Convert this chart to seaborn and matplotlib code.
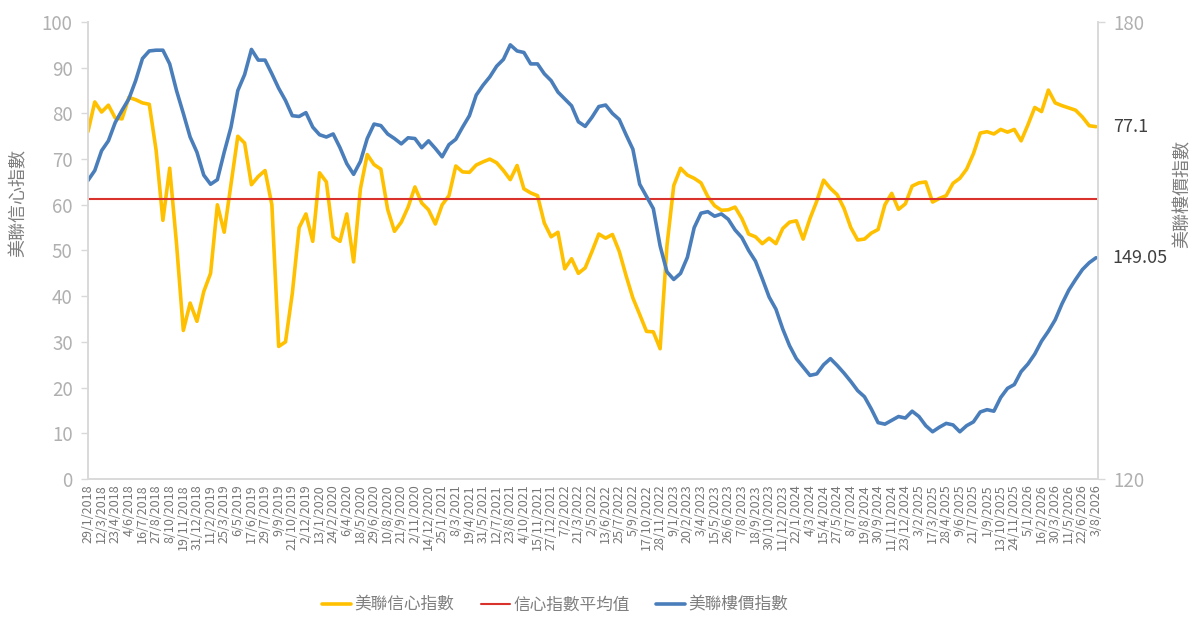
import pandas as pd
import seaborn as sns
import matplotlib.pyplot as plt

# weekly series sampled every 3 weeks, 29/1/2018 .. 3/8/2026
start_date = '2018-01-29'
step_days = 21

confidence = [
    76, 82.5, 80.3, 81.8, 79, 78.8, 83.5, 83, 82.3, 82,
    72, 56.6, 68, 51.5, 32.5, 38.5, 34.5, 41, 45, 60,
    54, 64.5, 75, 73.5, 64.4, 66.2, 67.5, 60, 29, 30,
    40.6, 55, 58, 52, 67, 65, 53, 52, 58, 47.5,
    63.5, 71, 68.8, 67.8, 59, 54.2, 56.2, 59.5, 63.9, 60.4,
    58.9, 55.8, 60, 62, 68.5, 67.2, 67.1, 68.7, 69.4, 70,
    69.2, 67.5, 65.5, 68.6, 63.5, 62.6, 62, 56, 53, 54,
    46, 48.2, 45, 46.2, 49.8, 53.6, 52.7, 53.5, 49.8, 44.5,
    39.6, 36, 32.3, 32.2, 28.5, 51, 64.2, 68, 66.5, 65.8,
    64.8, 61.8, 59.8, 58.8, 58.9, 59.5, 57, 53.6, 53, 51.5,
    52.7, 51.5, 54.8, 56.2, 56.5, 52.5, 57, 60.8, 65.4, 63.6,
    62.2, 59.2, 55, 52.3, 52.5, 53.8, 54.6, 60, 62.5, 59,
    60.2, 64.1, 64.8, 65, 60.6, 61.4, 62, 64.7, 65.8, 67.8,
    71.2, 75.7, 76, 75.5, 76.5, 75.9, 76.5, 74, 77.5, 81.3,
    80.4, 85.1, 82.3, 81.7, 81.2, 80.7, 79.2, 77.3, 77.1,
]

price = [
    159.2, 160.5, 163.1, 164.4, 166.8, 168.4, 169.9, 172.3, 175.2, 176.2,
    176.3, 176.3, 174.5, 171.0, 168.0, 164.9, 162.9, 159.9, 158.7, 159.3,
    162.9, 166.2, 171.0, 173.1, 176.4, 175.0, 175.0, 173.2, 171.3, 169.7,
    167.7, 167.6, 168.1, 166.2, 165.2, 164.9, 165.3, 163.5, 161.4, 160.0,
    161.7, 164.7, 166.6, 166.4, 165.3, 164.7, 164.0, 164.8, 164.7, 163.5,
    164.4, 163.4, 162.3, 163.9, 164.6, 166.2, 167.7, 170.4, 171.7, 172.8,
    174.2, 175.1, 177.0, 176.2, 176.0, 174.5, 174.5, 173.2, 172.3, 170.8,
    169.9, 169.0, 166.9, 166.3, 167.5, 168.9, 169.1, 168.0, 167.2, 165.2,
    163.3, 158.7, 157.1, 155.5, 150.6, 147.2, 146.2, 147.0, 149.1, 153.0,
    154.9, 155.1, 154.5, 154.8, 154.1, 152.7, 151.7, 150.0, 148.6, 146.3,
    143.9, 142.3, 139.7, 137.5, 135.8, 134.7, 133.6, 133.8, 135.0, 135.8,
    134.9, 133.9, 132.8, 131.6, 130.8, 129.2, 127.4, 127.2, 127.7, 128.2,
    128.0, 128.9, 128.2, 127.0, 126.2, 126.8, 127.3, 127.1, 126.2, 127.0,
    127.5, 128.8, 129.1, 128.9, 130.7, 131.9, 132.4, 134.1, 135.1, 136.4,
    138.1, 139.4, 140.9, 143.0, 144.8, 146.2, 147.5, 148.4, 149.05,
]

confidence_avg = 61.3
tick_step_days = 42

label_conf = '美聯信心指數'
label_avg = '信心指數平均值'
label_price = '美聯樓價指數'

sns.set_theme(style='white')
plt.rcParams['font.family'] = ['Noto Sans CJK TC', 'DejaVu Sans']

dates = pd.date_range(start_date, periods=len(confidence), freq=f'{step_days}D')
df = pd.DataFrame({'date': dates, 'conf': confidence, 'price': price})

fig = plt.figure(figsize=(12, 6.29), dpi=100)
ax = fig.add_axes([0.0733, 0.2385, 0.8417, 0.7265])
ax2 = ax.twinx()

yellow = '#ffc000'
blue = '#4a7ebb'
red = '#d9312b'

sns.lineplot(data=df, x='date', y='conf', ax=ax, color=yellow, linewidth=2.6, label=label_conf, legend=False)
ax.axhline(confidence_avg, color=red, linewidth=1.5, label=label_avg)
sns.lineplot(data=df, x='date', y='price', ax=ax2, color=blue, linewidth=2.6, label=label_price, legend=False)

ax.set_ylim(0, 100)
ax2.set_ylim(120, 180)
ax.set_yticks(range(0, 101, 10))
ax2.set_yticks([120, 180])
ax.set_xlim(dates[0], dates[-1] + pd.Timedelta(days=6))

ticks = pd.date_range(start_date, dates[-1], freq=f'{tick_step_days}D')
ax.set_xticks(ticks)
ax.set_xticklabels([f'{d.day}/{d.month}/{d.year}' for d in ticks], rotation=90,
                   fontsize=9, color='#767676')
ax.tick_params(axis='x', length=0, pad=4)
ax.tick_params(axis='y', labelsize=13.5, labelcolor='#b0b0b0', color='#d9d9d9',
               length=5, width=1, left=True, pad=6)
ax2.tick_params(axis='y', labelsize=13.5, labelcolor='#b0b0b0', color='#d9d9d9',
                length=5, width=1, right=True, pad=6)

ax.set_xlabel('')
ax.set_ylabel(label_conf, fontsize=13, color='#7f7f7f')
ax2.set_ylabel(label_price, fontsize=13, color='#7f7f7f', rotation=90)
ax.yaxis.set_label_coords(-0.060, 0.604)
ax2.yaxis.set_label_coords(1.075, 0.624)

for a in (ax, ax2):
    for side in ('left', 'right', 'bottom'):
        a.spines[side].set_color('#d9d9d9')
        a.spines[side].set_linewidth(1.2)
    a.spines['top'].set_visible(False)
    a.grid(False)

# data labels at the last point
ax.annotate(f'{confidence[-1]}', (dates[-1], confidence[-1]), xytext=(12, 0),
            textcoords='offset points', va='center', fontsize=13, color='#404040',
            annotation_clip=False)
ax2.annotate(f'{price[-1]}', (dates[-1], price[-1]), xytext=(12, 0),
             textcoords='offset points', va='center', fontsize=13, color='#404040',
             annotation_clip=False)

handles = ax.get_lines()[:2] + ax2.get_lines()[:1]
fig.legend(handles, [label_conf, label_avg, label_price], loc='center',
           bbox_to_anchor=(0.4625, 0.038), ncol=3, frameon=False, fontsize=12,
           labelcolor='#7f7f7f', handlelength=1.75, columnspacing=1.6, handletextpad=0.2)

fig.savefig('out.png', dpi=100)
